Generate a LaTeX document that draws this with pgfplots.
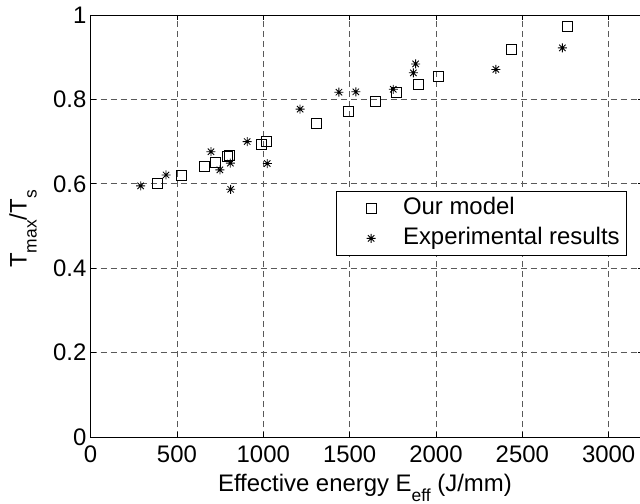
\documentclass[border=0pt]{standalone}
\usepackage{fontspec}
\setmainfont{Liberation Sans}
\usepackage{pgfplots}
\pgfplotsset{compat=1.18}
\newcommand\sub[1]{\raisebox{-10bp}{\fontsize{17.5}{18}\selectfont #1}}
\pgfdeclareplotmark{mstar}{%
 \pgfpathmoveto{\pgfpoint{-\pgfplotmarksize}{0pt}}\pgfpathlineto{\pgfpoint{\pgfplotmarksize}{0pt}}%
 \pgfpathmoveto{\pgfpoint{0pt}{-\pgfplotmarksize}}\pgfpathlineto{\pgfpoint{0pt}{\pgfplotmarksize}}%
 \pgfpathmoveto{\pgfpoint{-.7071\pgfplotmarksize}{-.7071\pgfplotmarksize}}\pgfpathlineto{\pgfpoint{.7071\pgfplotmarksize}{.7071\pgfplotmarksize}}%
 \pgfpathmoveto{\pgfpoint{-.7071\pgfplotmarksize}{.7071\pgfplotmarksize}}\pgfpathlineto{\pgfpoint{.7071\pgfplotmarksize}{-.7071\pgfplotmarksize}}%
 \pgfusepathqstroke}
\begin{document}
\begin{tikzpicture}[font=\fontsize{24}{28}\selectfont]
\begin{axis}[
  name=ax,
  scale only axis,
  width=552.6bp, height=422bp,
  xmin=0, xmax=3200, ymin=0, ymax=1,
  xtick={0,500,1000,1500,2000,2500,3000},
  ytick={0,0.2,0.4,0.6,0.8,1},
  scaled x ticks=false,
  /pgf/number format/1000 sep={},
  /pgf/number format/assume math mode=true,
  tick align=inside,
  major tick length=5bp,
  tick style={black, line width=0.6bp},
  axis line style={black, line width=0.8bp},
  grid=major,
  major grid style={black!65, line width=0.7bp, dash pattern=on 6bp off 4bp},
  xticklabel style={inner sep=0pt, yshift=-9bp},
  yticklabel style={inner sep=0pt, xshift=-4bp},
  xlabel={Effective energy E\sub{eff} (J/mm)},
  ylabel={T\sub{max}/T\sub{s}},
  xlabel style={at={(axis description cs:0.4964,0)}, anchor=base, inner sep=0pt, yshift=-54bp},
  ylabel style={at={(axis description cs:0,0.5)}, anchor=base, inner sep=0pt, yshift=64bp, xshift=-3bp},
  legend style={at={(axis description cs:0.4435,0.583)}, anchor=north west,
     draw=black, line width=0.8bp, inner xsep=0pt, inner ysep=4bp,
     nodes={inner ysep=2bp, inner xsep=7bp, text height=17bp, text depth=5bp},
     row sep=4bp},
  legend cell align=left,
  legend image code/.code={\path[draw=none] (0bp,-1bp) rectangle (60bp,1bp); \draw[#1] plot coordinates {(35bp,0bp)};},
]
\addplot[only marks, mark=square, mark size=5bp, mark options={black, line width=0.6bp}] coordinates {
(386,0.600) (527,0.621) (658,0.642) (724,0.651) (794,0.664) (803,0.668)
(991,0.694) (1020,0.700) (1309,0.743) (1492,0.771) (1647,0.796) (1772,0.817)
(1898,0.836) (2013,0.854) (2434,0.919) (2760,0.973)
};
\addlegendentry{Our model}
\addplot[only marks, mark=mstar, mark size=4.5bp, mark options={black, line width=0.85bp}] coordinates {
(290,0.595) (437,0.621) (697,0.676) (749,0.633) (809,0.649) (811,0.587)
(907,0.700) (1023,0.648) (1213,0.777) (1438,0.817) (1536,0.818) (1753,0.824)
(1869,0.863) (1882,0.884) (2347,0.871) (2732,0.922)
};
\addlegendentry{Experimental results}
\end{axis}
\pgfresetboundingbox
\path[use as bounding box] ([xshift=-90.6bp, yshift=-67bp]ax.south west) rectangle ([xshift=549.4bp, yshift=15bp]ax.north west);
\end{tikzpicture}
\end{document}
